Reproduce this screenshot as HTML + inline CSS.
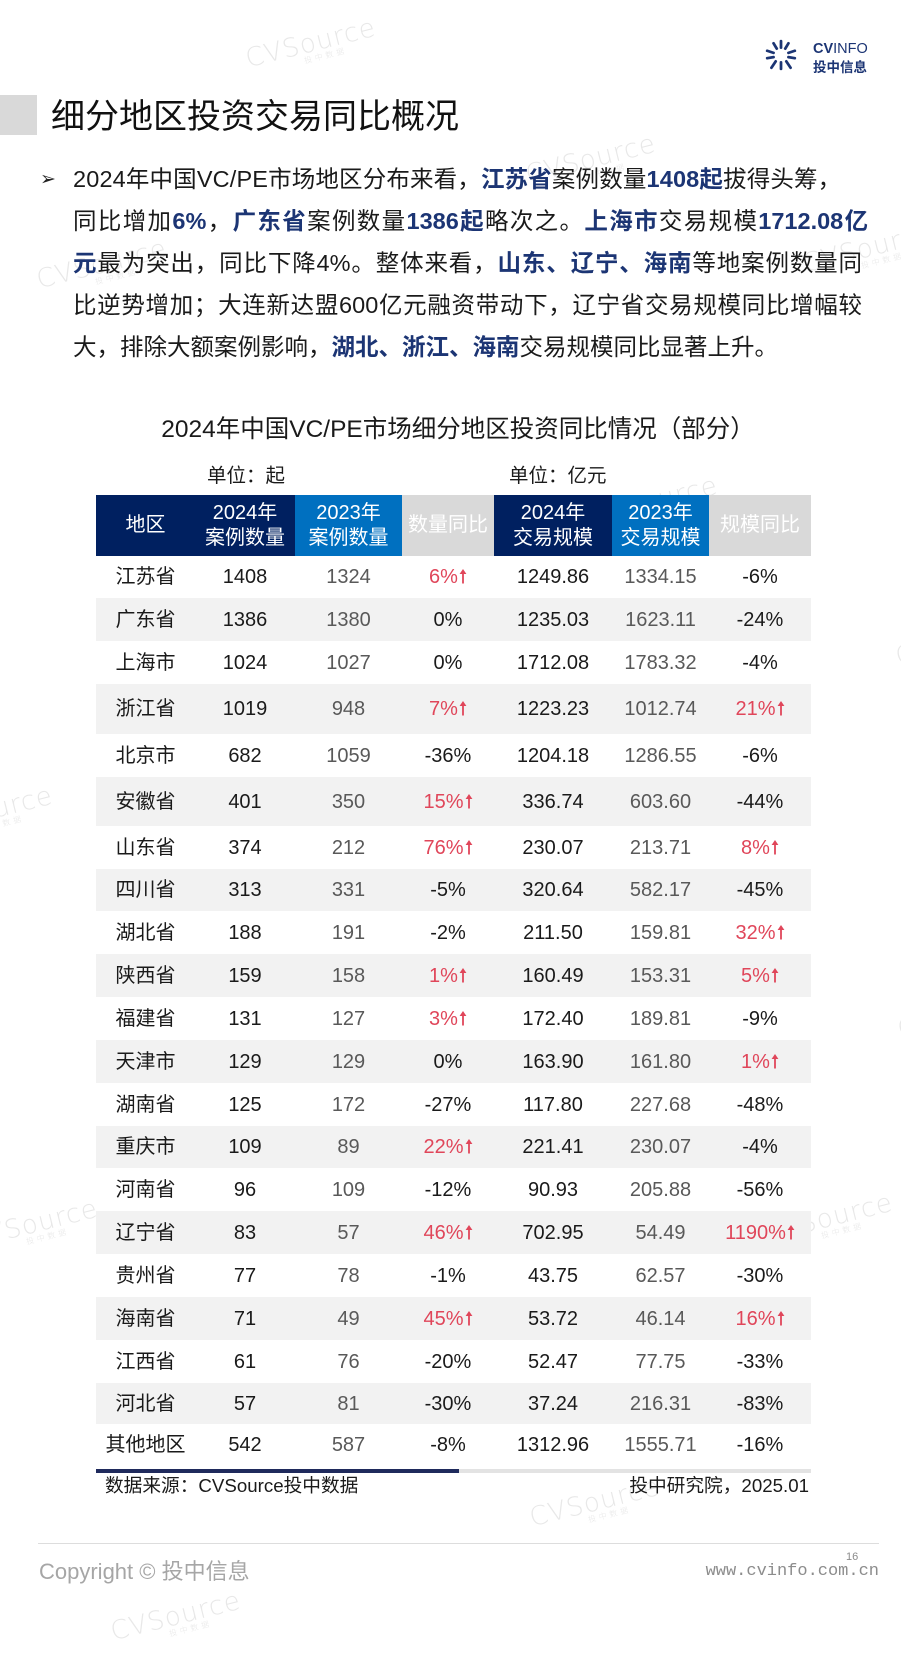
<!DOCTYPE html>
<html>
<head>
<meta charset="utf-8">
<style>
  html,body{margin:0;padding:0;background:#fff;}
  body{width:901px;height:1600px;position:relative;overflow:hidden;
       font-family:"Liberation Sans","Noto Sans CJK SC",sans-serif;color:#1a1a1a;}
  .abs{position:absolute;white-space:nowrap;}
  .wm{position:absolute;color:#e8e8e8;font-family:"DejaVu Sans","Liberation Sans",sans-serif;
      font-size:26px;font-weight:200;letter-spacing:1px;transform:rotate(-14deg);transform-origin:left top;white-space:nowrap;line-height:1;}
  .wm span{display:block;font-size:8px;font-family:"Noto Sans CJK SC",sans-serif;margin-left:56px;margin-top:-1px;letter-spacing:3px;}
  .b{font-weight:bold;color:#1c3574;}
  .ln{position:absolute;left:73px;height:42px;line-height:42px;font-size:23.5px;color:#1a1a1a;}
  .j{text-align:justify;text-align-last:justify;}
  table{position:absolute;left:96px;top:495px;width:715px;border-collapse:collapse;border-spacing:0;table-layout:fixed;}
  td{padding:0;text-align:center;vertical-align:middle;font-size:20px;line-height:1.2;white-space:nowrap;}
  tr.h td{color:#fff;line-height:25px;}
  .d{background:#002060;}
  .l{background:#0070C0;}
  .g{background:#D9D9D9;}
  tr.s td{background:#F2F2F2;}
  td.c3,td.c6{color:#595959;}
  .r{color:#E0465A;}
  .ar{display:inline-block;width:8px;height:16px;vertical-align:-1px;margin-left:1px;}
</style>
</head>
<body>

<!-- watermarks -->
<div class="wm" style="left:243px;top:47px;">CVSource<span>投中数据</span></div>
<div class="wm" style="left:523px;top:163px;">CVSource<span>投中数据</span></div>
<div class="wm" style="left:34px;top:268px;">CVSource<span>投中数据</span></div>
<div class="wm" style="left:800px;top:252px;">CVSource<span>投中数据</span></div>
<div class="wm" style="left:893px;top:645px;">CVSource<span>投中数据</span></div>
<div class="wm" style="left:-80px;top:815px;">CVSource<span>投中数据</span></div>
<div class="wm" style="left:895px;top:1018px;">CVSource<span>投中数据</span></div>
<div class="wm" style="left:-35px;top:1228px;">CVSource<span>投中数据</span></div>
<div class="wm" style="left:760px;top:1222px;">CVSource<span>投中数据</span></div>
<div class="wm" style="left:585px;top:505px;">CVSource<span>投中数据</span></div>
<div class="wm" style="left:527px;top:1506px;">CVSource<span>投中数据</span></div>
<div class="wm" style="left:108px;top:1620px;">CVSource<span>投中数据</span></div>

<!-- logo -->
<svg class="abs" style="left:764px;top:38px;" width="34" height="34" viewBox="0 0 32 32">
  <g stroke="#1c3574" stroke-width="2.6" stroke-linecap="round">
    <line x1="16" y1="3" x2="16" y2="9"/>
    <line x1="9" y1="5" x2="12" y2="10"/>
    <line x1="23" y1="5" x2="20" y2="10"/>
    <line x1="3" y1="12" x2="9" y2="14"/>
    <line x1="29" y1="12" x2="23" y2="14"/>
    <line x1="3" y1="19" x2="9" y2="18"/>
    <line x1="29" y1="19" x2="23" y2="18"/>
    <line x1="7" y1="28" x2="11" y2="22"/>
    <line x1="25" y1="28" x2="21" y2="22"/>
    <line x1="16" y1="29" x2="16" y2="23"/>
  </g>
</svg>
<div class="abs" style="left:813px;top:40px;font-size:14.5px;color:#1c3574;line-height:18px;"><b>CV</b>INFO</div>
<div class="abs" style="left:813px;top:58px;font-size:13.5px;color:#1c3574;line-height:16px;font-weight:bold;font-family:'Noto Sans CJK SC',sans-serif;">投中信息</div>

<!-- title -->
<div class="abs" style="left:0;top:95px;width:37px;height:40px;background:#D9D9D9;"></div>
<div class="abs" style="left:51px;top:94px;font-size:34px;line-height:46px;color:#111;">细分地区投资交易同比概况</div>

<!-- bullet text -->
<div class="abs" style="left:40px;top:158px;font-size:19px;line-height:42px;font-family:'DejaVu Sans',sans-serif;color:#222;">➢</div>
<div class="ln" style="top:158px;white-space:nowrap;letter-spacing:0.15px;">2024年中国VC/PE市场地区分布来看，<span class="b">江苏省</span>案例数量<span class="b">1408起</span>拔得头筹，</div>
<div class="ln j" style="top:200px;width:795px;">同比增加<span class="b">6%</span>，<span class="b">广东省</span>案例数量<span class="b">1386起</span>略次之。<span class="b">上海市</span>交易规模<span class="b">1712.08亿</span></div>
<div class="ln j" style="top:242px;width:789px;"><span class="b">元</span>最为突出，同比下降4%。整体来看，<span class="b">山东、辽宁、海南</span>等地案例数量同</div>
<div class="ln j" style="top:284px;width:789px;">比逆势增加；大连新达盟600亿元融资带动下，辽宁省交易规模同比增幅较</div>
<div class="ln" style="top:326px;white-space:nowrap;">大，排除大额案例影响，<span class="b">湖北、浙江、海南</span>交易规模同比显著上升。</div>

<!-- chart title -->
<div class="abs" style="left:0;top:415px;width:916px;text-align:center;font-size:24.5px;line-height:30px;color:#1a1a1a;">2024年中国VC/PE市场细分地区投资同比情况（部分）</div>
<div class="abs" style="left:207px;top:464px;font-size:19.5px;line-height:24px;color:#1a1a1a;">单位：起</div>
<div class="abs" style="left:509px;top:464px;font-size:19.5px;line-height:24px;color:#1a1a1a;">单位：亿元</div>

<svg width="0" height="0" style="position:absolute">
  <defs>
    <symbol id="up" viewBox="0 0 8 16">
      <path d="M4 1 L7.4 6 L4.9 6 L4.9 15.5 L3.1 15.5 L3.1 6 L0.6 6 Z" fill="#E0465A"/>
    </symbol>
  </defs>
</svg>

<table>
<colgroup>
<col style="width:99px"><col style="width:100px"><col style="width:107px"><col style="width:92px"><col style="width:118px"><col style="width:97px"><col style="width:102px">
</colgroup>
<tr class="h" style="height:61px;">
<td class="d">地区</td><td class="d">2024年<br>案例数量</td><td class="l">2023年<br>案例数量</td><td class="g">数量同比</td><td class="d">2024年<br>交易规模</td><td class="l">2023年<br>交易规模</td><td class="g">规模同比</td>
</tr>
<tr style="height:42px;"><td>江苏省</td><td>1408</td><td class="c3">1324</td><td class="r">6%<svg class="ar"><use href="#up"/></svg></td><td>1249.86</td><td class="c6">1334.15</td><td>-6%</td></tr>
<tr class="s" style="height:43px;"><td>广东省</td><td>1386</td><td class="c3">1380</td><td>0%</td><td>1235.03</td><td class="c6">1623.11</td><td>-24%</td></tr>
<tr style="height:43px;"><td>上海市</td><td>1024</td><td class="c3">1027</td><td>0%</td><td>1712.08</td><td class="c6">1783.32</td><td>-4%</td></tr>
<tr class="s" style="height:50px;"><td>浙江省</td><td>1019</td><td class="c3">948</td><td class="r">7%<svg class="ar"><use href="#up"/></svg></td><td>1223.23</td><td class="c6">1012.74</td><td class="r">21%<svg class="ar"><use href="#up"/></svg></td></tr>
<tr style="height:43px;"><td>北京市</td><td>682</td><td class="c3">1059</td><td>-36%</td><td>1204.18</td><td class="c6">1286.55</td><td>-6%</td></tr>
<tr class="s" style="height:49px;"><td>安徽省</td><td>401</td><td class="c3">350</td><td class="r">15%<svg class="ar"><use href="#up"/></svg></td><td>336.74</td><td class="c6">603.60</td><td>-44%</td></tr>
<tr style="height:43px;"><td>山东省</td><td>374</td><td class="c3">212</td><td class="r">76%<svg class="ar"><use href="#up"/></svg></td><td>230.07</td><td class="c6">213.71</td><td class="r">8%<svg class="ar"><use href="#up"/></svg></td></tr>
<tr class="s" style="height:42px;"><td>四川省</td><td>313</td><td class="c3">331</td><td>-5%</td><td>320.64</td><td class="c6">582.17</td><td>-45%</td></tr>
<tr style="height:43px;"><td>湖北省</td><td>188</td><td class="c3">191</td><td>-2%</td><td>211.50</td><td class="c6">159.81</td><td class="r">32%<svg class="ar"><use href="#up"/></svg></td></tr>
<tr class="s" style="height:43px;"><td>陕西省</td><td>159</td><td class="c3">158</td><td class="r">1%<svg class="ar"><use href="#up"/></svg></td><td>160.49</td><td class="c6">153.31</td><td class="r">5%<svg class="ar"><use href="#up"/></svg></td></tr>
<tr style="height:43px;"><td>福建省</td><td>131</td><td class="c3">127</td><td class="r">3%<svg class="ar"><use href="#up"/></svg></td><td>172.40</td><td class="c6">189.81</td><td>-9%</td></tr>
<tr class="s" style="height:43px;"><td>天津市</td><td>129</td><td class="c3">129</td><td>0%</td><td>163.90</td><td class="c6">161.80</td><td class="r">1%<svg class="ar"><use href="#up"/></svg></td></tr>
<tr style="height:43px;"><td>湖南省</td><td>125</td><td class="c3">172</td><td>-27%</td><td>117.80</td><td class="c6">227.68</td><td>-48%</td></tr>
<tr class="s" style="height:42px;"><td>重庆市</td><td>109</td><td class="c3">89</td><td class="r">22%<svg class="ar"><use href="#up"/></svg></td><td>221.41</td><td class="c6">230.07</td><td>-4%</td></tr>
<tr style="height:43px;"><td>河南省</td><td>96</td><td class="c3">109</td><td>-12%</td><td>90.93</td><td class="c6">205.88</td><td>-56%</td></tr>
<tr class="s" style="height:43px;"><td>辽宁省</td><td>83</td><td class="c3">57</td><td class="r">46%<svg class="ar"><use href="#up"/></svg></td><td>702.95</td><td class="c6">54.49</td><td class="r">1190%<svg class="ar"><use href="#up"/></svg></td></tr>
<tr style="height:43px;"><td>贵州省</td><td>77</td><td class="c3">78</td><td>-1%</td><td>43.75</td><td class="c6">62.57</td><td>-30%</td></tr>
<tr class="s" style="height:43px;"><td>海南省</td><td>71</td><td class="c3">49</td><td class="r">45%<svg class="ar"><use href="#up"/></svg></td><td>53.72</td><td class="c6">46.14</td><td class="r">16%<svg class="ar"><use href="#up"/></svg></td></tr>
<tr style="height:43px;"><td>江西省</td><td>61</td><td class="c3">76</td><td>-20%</td><td>52.47</td><td class="c6">77.75</td><td>-33%</td></tr>
<tr class="s" style="height:41px;"><td>河北省</td><td>57</td><td class="c3">81</td><td>-30%</td><td>37.24</td><td class="c6">216.31</td><td>-83%</td></tr>
<tr style="height:41px;"><td>其他地区</td><td>542</td><td class="c3">587</td><td>-8%</td><td>1312.96</td><td class="c6">1555.71</td><td>-16%</td></tr>
</table>

<!-- bottom rule -->
<div class="abs" style="left:96px;top:1469px;width:363px;height:4px;background:#1F2A5C;"></div>
<div class="abs" style="left:459px;top:1469px;width:352px;height:4px;background:#E3E3E3;"></div>

<div class="abs" style="left:105px;top:1474px;font-size:18.7px;line-height:24px;color:#1a1a1a;">数据来源：CVSource投中数据</div>
<div class="abs" style="left:560px;top:1474px;width:249px;text-align:right;font-size:18.7px;line-height:24px;color:#1a1a1a;">投中研究院，2025.01</div>

<!-- footer -->
<div class="abs" style="left:38px;top:1543px;width:841px;height:1px;background:#DDDDDD;"></div>
<div class="abs" style="left:39px;top:1558px;font-size:22px;line-height:28px;color:#A6A6A6;">Copyright © 投中信息</div>
<div class="abs" style="left:846px;top:1551px;font-size:11px;line-height:12px;color:#8c8c8c;">16</div>
<div class="abs" style="left:600px;top:1561px;width:279px;text-align:right;font-size:17px;line-height:22px;color:#8c8c8c;font-family:'Liberation Mono',monospace;">www.cvinfo.com.cn</div>

</body>
</html>
